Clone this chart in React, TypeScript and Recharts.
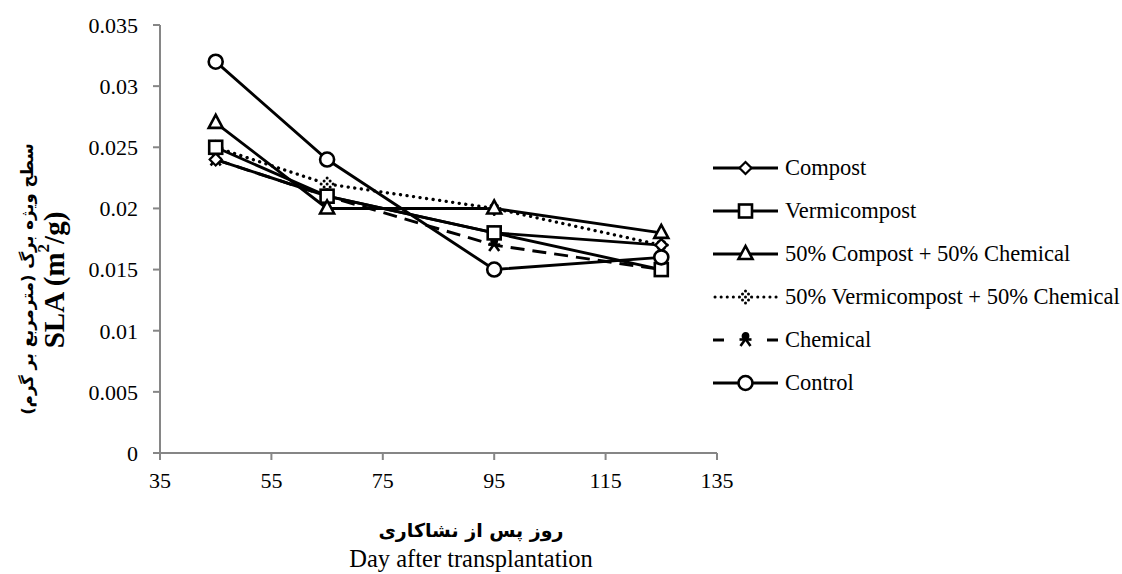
import React from 'react';
import { LineChart, Line, XAxis, YAxis } from 'recharts';

const days = [45, 65, 95, 125];
const compost = [0.024, 0.021, 0.018, 0.017];
const vermicompost = [0.025, 0.021, 0.018, 0.015];
const compostChem = [0.027, 0.02, 0.02, 0.018];
const vermiChem = [0.025, 0.022, 0.02, 0.017];
const chemical = [0.024, 0.021, 0.017, 0.015];
const control = [0.032, 0.024, 0.015, 0.016];

const xTicks = [35, 55, 75, 95, 115, 135];
const yTicks = [0, 0.005, 0.01, 0.015, 0.02, 0.025, 0.03, 0.035];

const data = days.map((d, i) => ({
  day: d,
  compost: compost[i],
  vermicompost: vermicompost[i],
  compostChem: compostChem[i],
  vermiChem: vermiChem[i],
  chemical: chemical[i],
  control: control[i],
}));

const SERIF = 'Liberation Serif, DejaVu Serif, serif';
const ARABIC = 'DejaVu Sans, Noto Sans, sans-serif';
const AXIS = '#868686';

type P = { cx: number; cy: number };

const Circle = ({ cx, cy }: P) => <circle cx={cx} cy={cy} r={7} fill="#fff" stroke="#000" strokeWidth={2.6} />;
const Square = ({ cx, cy }: P) => <rect x={cx - 6.5} y={cy - 6.5} width={13} height={13} fill="#fff" stroke="#000" strokeWidth={2.6} />;
const Triangle = ({ cx, cy }: P) => (
  <polygon points={`${cx},${cy - 8} ${cx - 7},${cy + 5} ${cx + 7},${cy + 5}`} fill="#fff" stroke="#000" strokeWidth={2.6} />
);
const Diamond = ({ cx, cy }: P) => (
  <polygon points={`${cx},${cy - 6} ${cx + 6},${cy} ${cx},${cy + 6} ${cx - 6},${cy}`} fill="#fff" stroke="#000" strokeWidth={2.2} />
);
const DotDiamond = ({ cx, cy }: P) => {
  const pts = [[0, -6], [-3, -3], [3, -3], [-6, 0], [6, 0], [-3, 3], [3, 3], [0, 6], [0, 0]];
  return (
    <g>
      <circle cx={cx} cy={cy} r={7} fill="#fff" />
      {pts.map(([dx, dy], i) => <circle key={i} cx={cx + dx} cy={cy + dy} r={1.5} fill="#000" />)}
    </g>
  );
};
const Star = ({ cx, cy }: P) => (
  <g stroke="#000" strokeWidth={2.6} fill="#000">
    <circle cx={cx} cy={cy - 4} r={2.6} />
    <line x1={cx - 6} y1={cy - 0.5} x2={cx + 6} y2={cy - 0.5} />
    <line x1={cx} y1={cy - 1} x2={cx - 5} y2={cy + 6} />
    <line x1={cx} y1={cy - 1} x2={cx + 5} y2={cy + 6} />
  </g>
);

const dotFn = (Shape: React.FC<P>) => (p: any) => <Shape key={`d-${p.index}`} cx={p.cx} cy={p.cy} />;

const series = [
  { key: 'vermiChem', name: '50% Vermicompost + 50% Chemical', shape: DotDiamond, dash: '0.1 6.5', width: 3.3 },
  { key: 'chemical', name: 'Chemical', shape: Star, dash: '14 8', width: 2.9 },
  { key: 'compost', name: 'Compost', shape: Diamond, dash: undefined, width: 2.9 },
  { key: 'vermicompost', name: 'Vermicompost', shape: Square, dash: undefined, width: 2.9 },
  { key: 'compostChem', name: '50% Compost + 50% Chemical', shape: Triangle, dash: undefined, width: 2.9 },
  { key: 'control', name: 'Control', shape: Circle, dash: undefined, width: 2.9 },
];

const legendOrder = ['compost', 'vermicompost', 'compostChem', 'vermiChem', 'chemical', 'control'];

const LegendIcon = ({ s }: { s: (typeof series)[number] }) => {
  const Shape = s.shape;
  let line: React.ReactNode;
  if (s.key === 'vermiChem') {
    line = <line x1={2} y1={11} x2={64} y2={11} stroke="#000" strokeWidth={3} strokeDasharray="0.1 6" strokeLinecap="round" />;
  } else if (s.key === 'chemical') {
    line = (
      <g stroke="#000" strokeWidth={3}>
        <line x1={0} y1={11} x2={11} y2={11} />
        <line x1={54} y1={11} x2={65} y2={11} />
      </g>
    );
  } else {
    line = <line x1={0} y1={11} x2={65} y2={11} stroke="#000" strokeWidth={3} />;
  }
  return (
    <svg width={66} height={22} style={{ display: 'block' }}>
      {line}
      <Shape cx={32.5} cy={11} />
    </svg>
  );
};

const XTick = (p: any) => (
  <text x={p.x} y={p.y} dy="0.71em" textAnchor="middle" fill="#000" fontSize={22} style={{ fontFamily: SERIF }}>
    {p.payload.value}
  </text>
);

const YTick = (p: any) => (
  <text x={p.x} y={p.y} dy="0.355em" textAnchor="end" fill="#000" fontSize={22} style={{ fontFamily: SERIF }}>
    {String(p.payload.value)}
  </text>
);

const YTitle = () => (
  <g>
    <text
      transform="translate(27,279) rotate(-90)"
      textAnchor="middle"
      dominantBaseline="central"
      fontWeight="bold"
      fontSize={16.5}
      fill="#000"
      direction="rtl"
      style={{ fontFamily: ARABIC }}
    >
      سطح ویژه برگ (مترمربع بر گرم)
    </text>
    <text
      transform="translate(54,280) rotate(-90)"
      textAnchor="middle"
      dominantBaseline="central"
      fontWeight="bold"
      fontSize={29}
      fill="#000"
      style={{ fontFamily: SERIF }}
    >
      SLA (m<tspan fontSize={17} dy={-11}>2</tspan><tspan dy={11}>/g)</tspan>
    </text>
  </g>
);

const XTitle = () => (
  <g>
    <text x={471} y={537} textAnchor="middle" fontWeight="bold" fontSize={19} fill="#000" direction="rtl" style={{ fontFamily: ARABIC }}>
      روز پس از نشاکاری
    </text>
    <text x={471} y={567} textAnchor="middle" fontSize={24.5} fill="#000" style={{ fontFamily: SERIF }}>
      Day after transplantation
    </text>
  </g>
);

export default function App() {
  return (
    <div style={{ position: 'absolute', left: 0, top: 0, width: 1122, height: 574, background: '#fff', fontFamily: SERIF }}>
      <LineChart width={1122} height={574} data={data} margin={{ top: 25, right: 405, bottom: 91, left: 100 }}>
        <XAxis
          dataKey="day"
          type="number"
          domain={[35, 135]}
          ticks={xTicks}
          allowDataOverflow
          height={30}
          stroke={AXIS}
          strokeWidth={2}
          tickSize={7}
          tickMargin={12}
          tick={<XTick />}
          tickLine={{ stroke: AXIS, strokeWidth: 2 }}
          label={<XTitle />}
        />
        <YAxis
          type="number"
          domain={[0, 0.035]}
          ticks={yTicks}
          width={60}
          stroke={AXIS}
          strokeWidth={2}
          tickSize={7}
          tickMargin={15}
          tick={<YTick />}
          tickLine={{ stroke: AXIS, strokeWidth: 2 }}
          label={<YTitle />}
        />
        {series.map((s) => (
          <Line
            key={s.key}
            dataKey={s.key}
            name={s.name}
            type="linear"
            stroke="#000"
            strokeWidth={s.width}
            strokeDasharray={s.dash}
            strokeLinecap={s.key === 'vermiChem' ? 'round' : 'butt'}
            dot={dotFn(s.shape)}
            activeDot={false}
            isAnimationActive={false}
          />
        ))}
      </LineChart>
      <div style={{ position: 'absolute', left: 713, top: 146, fontSize: 22.5, color: '#000' }}>
        {legendOrder.map((k) => {
          const s = series.find((x) => x.key === k)!;
          return (
            <div key={k} style={{ display: 'flex', alignItems: 'center', height: 43 }}>
              <LegendIcon s={s} />
              <span style={{ marginLeft: 6, whiteSpace: 'nowrap', fontFamily: SERIF }}>{s.name}</span>
            </div>
          );
        })}
      </div>
    </div>
  );
}
